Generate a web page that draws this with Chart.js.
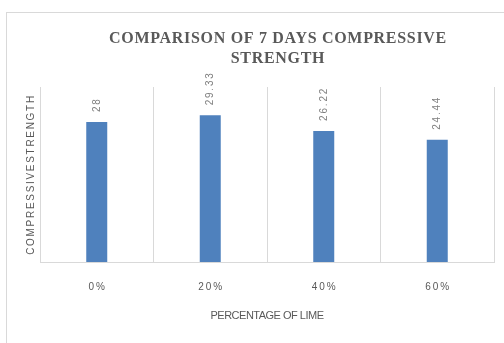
<!DOCTYPE html>
<html>
<head>
<meta charset="utf-8">
<script src="https://cdn.jsdelivr.net/npm/chart.js@4/dist/chart.umd.min.js"></script>
<style>
  html, body { margin: 0; padding: 0; background: #ffffff; overflow: hidden; }
  body { width: 504px; height: 343px; position: relative; }
  #frame {
    position: absolute; left: 6px; top: 12px; width: 498px; height: 331px;
    border-left: 1px solid #d9d9d9; border-top: 1px solid #d9d9d9; box-sizing: border-box;
  }
  #wrap { position: absolute; left: 0; top: 0; width: 504px; height: 343px; }
</style>
</head>
<body>
<div id="frame"></div>
<div id="wrap"><canvas id="chart" width="504" height="343"></canvas></div>
<script>
// Lime replacement levels and 7-day compressive strength results
const categories = ['0%', '20%', '40%', '60%'];
const strength = [28, 29.33, 26.22, 24.44];
const valueLabels = ['28', '29.33', '26.22', '24.44'];

const titleLines = ['COMPARISON OF 7 DAYS COMPRESSIVE', 'STRENGTH'];
const yTitle = 'COMPRESSIVESTRENGTH';
const xTitle = 'PERCENTAGE OF LIME';

// Draws the chart title, axis titles, category labels and value labels
const textPlugin = {
  id: 'textPlugin',
  afterDraw(chart) {
    const ctx = chart.ctx;
    const area = chart.chartArea;
    const xs = chart.scales.x;

    ctx.save();
    // Title
    ctx.fillStyle = '#595959';
    ctx.font = 'bold 16px "Liberation Serif", "Times New Roman", serif';
    ctx.letterSpacing = '0.7px';
    ctx.textAlign = 'center';
    ctx.textBaseline = 'alphabetic';
    ctx.fillText(titleLines[0], 278, 43);
    ctx.fillText(titleLines[1], 278, 63);

    // Category labels
    ctx.font = '10px "Liberation Sans", Arial, sans-serif';
    ctx.letterSpacing = '2px';
    ctx.textBaseline = 'middle';
    categories.forEach((c, i) => {
      ctx.fillText(c, xs.getPixelForValue(i) + 1, 287);
    });

    // X axis title
    ctx.font = '11px "Liberation Sans", Arial, sans-serif';
    ctx.letterSpacing = '-0.5px';
    ctx.fillText(xTitle, (area.left + area.right) / 2, 316);

    // Y axis title
    ctx.save();
    ctx.translate(31, (area.top + area.bottom) / 2);
    ctx.rotate(-Math.PI / 2);
    ctx.font = '10px "Liberation Sans", Arial, sans-serif';
    ctx.letterSpacing = '1.7px';
    ctx.fillText(yTitle, 0, 0);
    ctx.restore();

    // Value labels above the bars, rotated
    ctx.fillStyle = '#7f7f7f';
    ctx.font = '10px "Liberation Sans", Arial, sans-serif';
    ctx.letterSpacing = '1.8px';
    ctx.textAlign = 'left';
    const meta = chart.getDatasetMeta(0);
    meta.data.forEach((bar, i) => {
      ctx.save();
      ctx.translate(bar.x, bar.y - 10);
      ctx.rotate(-Math.PI / 2);
      ctx.fillText(valueLabels[i], 0, 0);
      ctx.restore();
    });
    ctx.restore();
  }
};

new Chart(document.getElementById('chart'), {
  type: 'bar',
  data: {
    labels: categories,
    datasets: [{
      data: strength,
      backgroundColor: '#4f81bd',
      borderWidth: 0,
      barPercentage: 0.185,
      categoryPercentage: 1
    }]
  },
  options: {
    responsive: false,
    animation: false,
    devicePixelRatio: 1,
    layout: { padding: { left: 40, top: 87, right: 10, bottom: 81 } },
    plugins: {
      legend: { display: false },
      title: { display: false },
      tooltip: { enabled: false }
    },
    scales: {
      x: {
        display: true,
        grid: { offset: true, color: '#d9d9d9', lineWidth: 1, drawTicks: false },
        border: { display: true, color: '#d9d9d9', width: 1 },
        ticks: { display: false }
      },
      y: {
        display: false,
        min: 0,
        max: 35
      }
    }
  },
  plugins: [textPlugin]
});
</script>
</body>
</html>
